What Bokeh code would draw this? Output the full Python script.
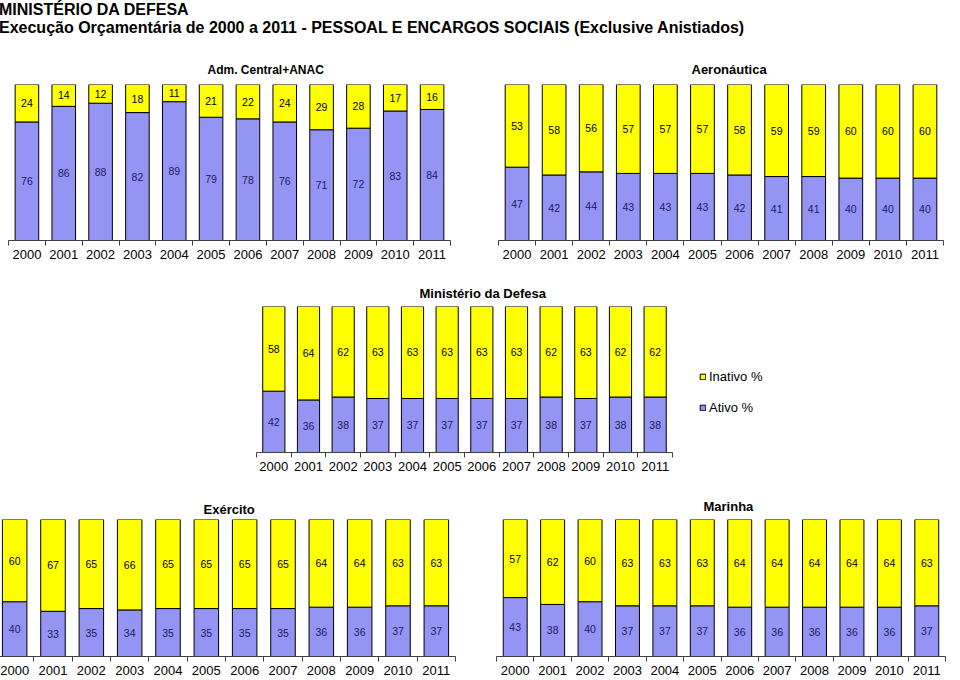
from bokeh.plotting import figure
from bokeh.models import ColumnDataSource, Range1d, FixedTicker, Legend, LegendItem, Div, Spacer
from bokeh.layouts import column, row
from bokeh.core.properties import value
from bokeh.embed import file_html
from bokeh.resources import INLINE

years = [2000, 2001, 2002, 2003, 2004, 2005, 2006, 2007, 2008, 2009, 2010, 2011]

adm_inativo = [24, 14, 12, 18, 11, 21, 22, 24, 29, 28, 17, 16]
adm_ativo = [76, 86, 88, 82, 89, 79, 78, 76, 71, 72, 83, 84]

aer_inativo = [53, 58, 56, 57, 57, 57, 58, 59, 59, 60, 60, 60]
aer_ativo = [47, 42, 44, 43, 43, 43, 42, 41, 41, 40, 40, 40]

md_inativo = [58, 64, 62, 63, 63, 63, 63, 63, 62, 63, 62, 62]
md_ativo = [42, 36, 38, 37, 37, 37, 37, 37, 38, 37, 38, 38]

exe_inativo = [60, 67, 65, 66, 65, 65, 65, 65, 64, 64, 63, 63]
exe_ativo = [40, 33, 35, 34, 35, 35, 35, 35, 36, 36, 37, 37]

mar_inativo = [57, 62, 60, 63, 63, 63, 64, 64, 64, 64, 64, 63]
mar_ativo = [43, 38, 40, 37, 37, 37, 36, 36, 36, 36, 36, 37]

FONT = "Liberation Sans"
YELLOW = "#FFFF00"
BLUE = "#9494F4"
NAVY = "#1a1a60"


def panel(title, ativo, inativo, frame_w, frame_h, left, right, top, bottom,
          title_offset=0, title_standoff=10, title_size="13px"):
    src = ColumnDataSource(dict(
        x=years,
        ativo=ativo,
        top=[a + i for a, i in zip(ativo, inativo)],
        a_mid=[a / 2 for a in ativo],
        i_mid=[a + i / 2 for a, i in zip(ativo, inativo)],
        a_lab=[str(a) for a in ativo],
        i_lab=[str(i) for i in inativo],
    ))
    p = figure(frame_width=frame_w, frame_height=frame_h,
               min_border_left=left, min_border_right=right,
               min_border_top=top, min_border_bottom=bottom,
               x_range=Range1d(years[0] - 0.5, years[-1] + 0.5),
               y_range=Range1d(0, 100), y_axis_location=None,
               toolbar_location=None, output_backend="svg", title=title)
    r_a = p.vbar(x='x', width=0.64, bottom=0, top='ativo', source=src,
                 fill_color=BLUE, line_color="black", line_width=1)
    r_i = p.vbar(x='x', width=0.64, bottom='ativo', top='top', source=src,
                 fill_color=YELLOW, line_color="black", line_width=1)
    p.text(x='x', y='a_mid', text='a_lab', source=src, text_align="center",
           text_baseline="middle", text_font=value(FONT), text_font_size="10.5px",
           text_color=NAVY)
    p.text(x='x', y='i_mid', text='i_lab', source=src, text_align="center",
           text_baseline="middle", text_font=value(FONT), text_font_size="10.5px",
           text_color="black")
    ax = p.xaxis[0]
    ax.ticker = FixedTicker(ticks=years,
                            minor_ticks=[y - 0.5 for y in years] + [years[-1] + 0.5])
    ax.major_tick_out = 0
    ax.major_tick_in = 0
    ax.minor_tick_out = 5
    ax.minor_tick_in = 0
    ax.minor_tick_line_color = "#404040"
    ax.axis_line_color = "#404040"
    ax.major_label_text_font = FONT
    ax.major_label_text_font_size = "13px"
    ax.major_label_text_color = "black"
    ax.major_label_standoff = 4
    p.xgrid.visible = False
    p.ygrid.visible = False
    p.outline_line_color = None
    p.title.align = "left"
    p.title.text_font = FONT
    p.title.text_font_size = title_size
    p.title.text_font_style = "bold"
    p.title.text_color = "black"
    p.title.offset = title_offset
    p.title.standoff = title_standoff
    return p, r_a, r_i


pA, _, _ = panel("Adm. Central+ANAC", adm_ativo, adm_inativo, 442, 156, 16, 32, 46, 28,
                 title_offset=199, title_standoff=15, title_size="12px")
pB, _, _ = panel("Aeronáutica", aer_ativo, aer_inativo, 445, 156, 16, 9, 46, 28,
                 title_offset=193, title_standoff=16)
pC, rCa, rCi = panel("Ministério da Defesa", md_ativo, md_inativo, 416, 146, 14, 100, 38, 38,
                     title_offset=163, title_standoff=11)
pD, _, _ = panel("Exército", exe_ativo, exe_inativo, 460, 137, 3, 27, 29, 24,
                 title_offset=208, title_standoff=5)
pE, _, _ = panel("Marinha", mar_ativo, mar_inativo, 449, 137, 14, 7, 29, 24,
                 title_offset=207, title_standoff=12)

legend = Legend(items=[LegendItem(label="Inativo %", renderers=[rCi]),
                       LegendItem(label="Ativo %", renderers=[rCa])],
                location=(27, 37), padding=0, margin=0, spacing=16,
                glyph_width=7, glyph_height=7, label_height=13, label_standoff=3,
                label_text_font=FONT, label_text_font_size="13px",
                label_text_color="black",
                background_fill_alpha=0, border_line_alpha=0)
pC.add_layout(legend, "right")

title_div = Div(
    text=('<div style="padding-top:4px;padding-left:2px">MINISTÉRIO DA DEFESA<br>'
          'Execução Orçamentária de 2000 a 2011 - PESSOAL E ENCARGOS SOCIAIS '
          '(Exclusive Anistiados)</div>'),
    width=960, height=36,
    styles={"font-family": FONT, "font-size": "16px", "font-weight": "bold",
            "line-height": "18px", "color": "black"})

root = column(title_div,
              row(pA, pB),
              row(Spacer(width=250, height=222), pC),
              row(pD, pE),
              margin=(-8, 0, -8, -8))

open("out.html", "w").write(file_html(root, INLINE))
